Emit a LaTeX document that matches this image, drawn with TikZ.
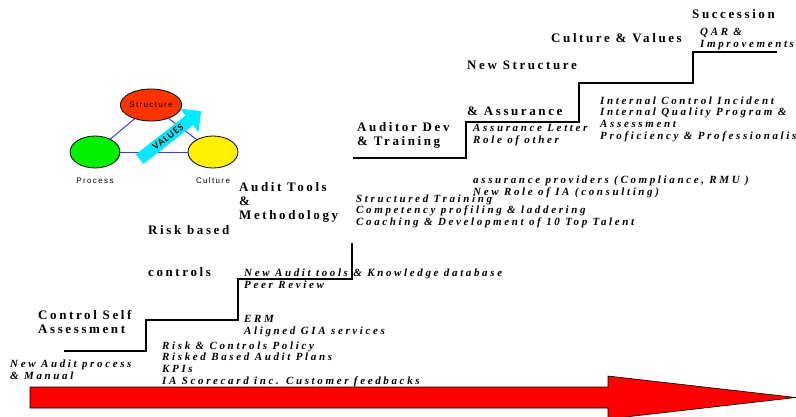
\documentclass[tikz,border=0pt]{standalone}
\usepackage{fontspec}
\setmainfont{Liberation Serif}
\newfontfamily\headfont[LetterSpace=20]{Liberation Serif}
\newfontfamily\notefont[LetterSpace=24]{Liberation Serif}
\newfontfamily\labelfont[LetterSpace=17]{Liberation Sans}
\newfontfamily\arrowfont[LetterSpace=10]{Carlito}
\usepackage{tikz}
\usetikzlibrary{shapes.geometric,shapes.arrows,positioning}

\definecolor{structred}{RGB}{255,51,0}
\definecolor{processgreen}{RGB}{0,240,0}
\definecolor{sideblue}{RGB}{60,60,210}
\definecolor{valuecyan}{RGB}{0,235,255}

\begin{document}
\begin{tikzpicture}[
  x=1pt, y=-1pt,
  head/.style={font=\headfont\bfseries\fontsize{13}{14}\selectfont, align=left, inner sep=0pt, anchor=west},
  note/.style={font=\notefont\bfseries\itshape\fontsize{11}{11.6}\selectfont, align=left, inner sep=0pt, anchor=west},
  lbl/.style={font=\labelfont\fontsize{8}{9}\selectfont, inner sep=0pt},
  blob/.style={ellipse, draw, line width=0.8pt, minimum width=50pt, minimum height=32pt, inner sep=0pt},
  side/.style={draw=sideblue, line width=1pt},
  stair/.style={line width=1.3pt}
]
  \useasboundingbox (0,0) rectangle (796,416);

  % triangle
  \node[blob, fill=structred, lbl] (structure) at (151,105) {Structure};
  \node[blob, fill=processgreen] (process) at (95,152) {};
  \node[blob, fill=yellow] (culture) at (213,152) {};
  \node[lbl, below=9pt of process] (processlbl) {Process};
  \node[lbl, below=9pt of culture] (culturelbl) {Culture};
  \draw[side] (structure) -- (process);
  \draw[side] (structure) -- (culture);
  \draw[side] (process) -- (culture);
  \node[single arrow, fill=valuecyan, rotate=38, minimum height=78pt, minimum width=30pt,
        single arrow head extend=8pt, inner sep=2pt,
        font=\arrowfont\bfseries\fontsize{10}{10}\selectfont] (values) at (168,137) {VALUES};

  % steps
  \draw[stair] (64,351) -- (146,351) -- (146,320) -- (238,320) -- (238,279) -- (352,279) -- (352,243);
  \draw[stair] (353,158) -- (466,158) -- (466,122) -- (579,122) -- (579,83) -- (693,83) -- (693,52) -- (777,52);

  % headings
  \node[head] (succession) at (692,14) {Succession};
  \node[head] (culturevalues) at (551,38) {Culture \& Values};
  \node[head] (newstructure) at (467,65) {New Structure};
  \node[head] (assurance) at (467,111) {\& Assurance};
  \node[head] (auditordev) at (357,135) {Auditor Dev\\\& Training};
  \node[head] (audittools) at (239,202) {Audit Tools\\\&\\Methodology};
  \node[head] (riskbased) at (148,230) {Risk based};
  \node[head] (controls) at (148,272) {controls};
  \node[head] (csa) at (38,322) {Control Self\\Assessment};

  % notes
  \node[note] (qar) at (700,39) {QAR \&\\Improvements};
  \node[note] (assurnotes) at (473,135) {Assurance Letter\\Role of other};
  \node[note] (icnotes) at (600,119) {Internal Control Incident\\Internal Quality Program \&\\Assessment\\Proficiency \& Professionalism};
  \node[note] (providers) at (473,187) {assurance providers (Compliance, RMU )\\New Role of IA (consulting)};
  \node[note] (training) at (356,211) {Structured Training\\Competency profiling \& laddering\\Coaching \& Development of 10 Top Talent};
  \node[note] (toolsnotes) at (244,279) {New Audit tools \& Knowledge database\\Peer Review};
  \node[note] (ermnotes) at (244,326) {ERM\\Aligned GIA services};
  \node[note] (policynotes) at (162,364) {Risk \& Controls Policy\\Risked Based Audit Plans\\KPIs\\IA Scorecard inc. Customer feedbacks};
  \node[note] (auditprocess) at (10,370) {New Audit process\\\& Manual};

  % time arrow
  \draw[fill=red, line width=0.6pt] (30,387) -- (608,387) -- (608,376) -- (796,397.5) -- (608,419) -- (608,408) -- (30,408) -- cycle;
\end{tikzpicture}
\end{document}
